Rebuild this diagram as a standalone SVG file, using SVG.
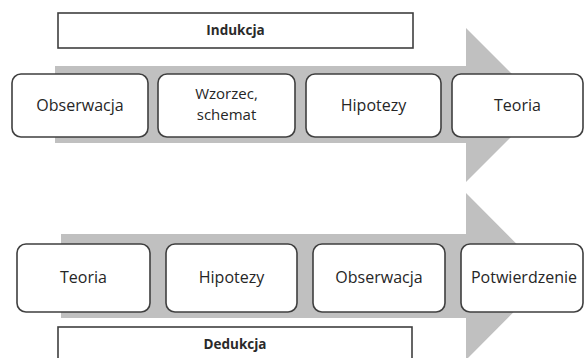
<svg xmlns="http://www.w3.org/2000/svg" width="585" height="358" viewBox="0 0 585 358">
<style>
.arrow{fill:#c0c0c0;stroke:none}
.node{fill:#ffffff;stroke:#3f3f3f;stroke-width:1.6}
.label{fill:#ffffff;stroke:#3f3f3f;stroke-width:1.6}
.t{font-family:"Open Sans","Liberation Sans",sans-serif;font-size:16px;fill:#262626;text-anchor:middle}
.t2{font-size:15px}
.tb{font-family:"Open Sans","Liberation Sans",sans-serif;font-size:13.5px;font-weight:bold;fill:#2a2a2a;text-anchor:middle}
</style>
<rect width="585" height="358" fill="#ffffff"/>
<g id="connectors">
<polygon class="arrow" points="55,66 466,66 466,28 543,105 466,182 466,143 55,143"/>
<polygon class="arrow" points="61,234 466,234 466,193 549,276.5 466,360 466,318 61,318"/>
</g>
<g id="indukcja">
<rect class="label" x="58" y="13" width="355" height="35"/>
<text class="tb" x="235.5" y="35">Indukcja</text>
</g>
<g id="top-obserwacja">
<rect class="node" x="12" y="74" width="136" height="63" rx="9"/>
<text class="t" x="80" y="111">Obserwacja</text>
</g>
<g id="top-wzorzec">
<rect class="node" x="158" y="74" width="137" height="63" rx="9"/>
<text class="t t2" x="226.5" y="98.5">Wzorzec,</text>
<text class="t t2" x="226.5" y="119.5">schemat</text>
</g>
<g id="top-hipotezy">
<rect class="node" x="306" y="74" width="135" height="63" rx="9"/>
<text class="t" x="373.5" y="111">Hipotezy</text>
</g>
<g id="top-teoria">
<rect class="node" x="452" y="74" width="131" height="63" rx="9"/>
<text class="t" x="517.5" y="111">Teoria</text>
</g>
<g id="bottom-teoria">
<rect class="node" x="17" y="244" width="133" height="68" rx="9"/>
<text class="t" x="83.5" y="283">Teoria</text>
</g>
<g id="bottom-hipotezy">
<rect class="node" x="166" y="244" width="131" height="68" rx="9"/>
<text class="t" x="231.5" y="283">Hipotezy</text>
</g>
<g id="bottom-obserwacja">
<rect class="node" x="313" y="244" width="132" height="68" rx="9"/>
<text class="t" x="379" y="283">Obserwacja</text>
</g>
<g id="bottom-potwierdzenie">
<rect class="node" x="461" y="244" width="122" height="68" rx="9"/>
<text class="t" x="524" y="283">Potwierdzenie</text>
</g>
<g id="dedukcja">
<rect class="label" x="58" y="327" width="354" height="40"/>
<text class="tb" x="235" y="349">Dedukcja</text>
</g>
</svg>
